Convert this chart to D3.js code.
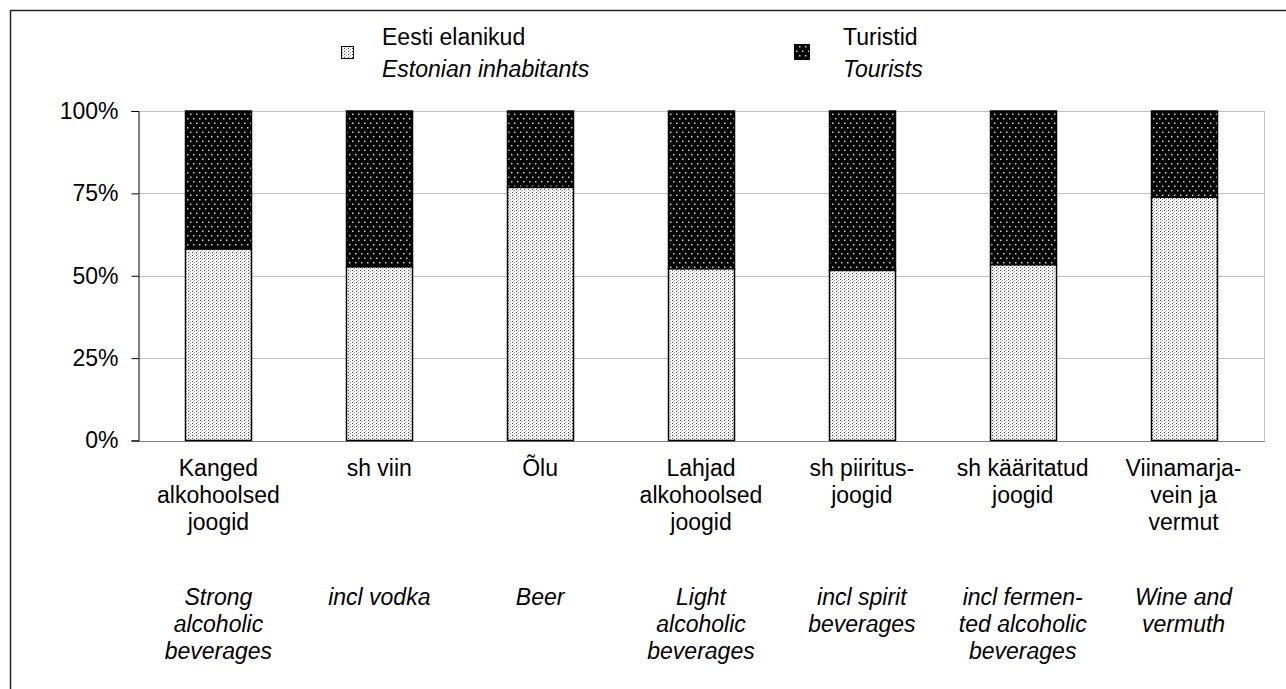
<!DOCTYPE html>
<html><head><meta charset="utf-8">
<script src="https://cdn.jsdelivr.net/npm/d3@7"></script>
<style>body{margin:0;background:#fff}svg{display:block;font-family:"Liberation Sans",Arial,sans-serif}</style>
</head><body><svg id="c" width="1286" height="689"></svg>
<script>
const categories = ["Kanged alkohoolsed joogid","sh viin","Õlu","Lahjad alkohoolsed joogid","sh piiritus-joogid","sh kääritatud joogid","Viinamarja-vein ja vermut"];
const labelsEt = [["Kanged","alkohoolsed","joogid"],["sh viin"],["Õlu"],["Lahjad","alkohoolsed","joogid"],["sh piiritus-","joogid"],["sh kääritatud","joogid"],["Viinamarja-","vein ja","vermut"]];
const labelsEn = [["Strong","alcoholic","beverages"],["incl vodka"],["Beer"],["Light","alcoholic","beverages"],["incl spirit","beverages"],["incl fermen-","ted alcoholic","beverages"],["Wine and","vermuth"]];
const residents = [58.1, 52.7, 76.8, 52.1, 51.6, 53.3, 73.8];
const tourists = [41.9, 47.3, 23.2, 47.9, 48.4, 46.7, 26.2];
const yTicks = [0, 25, 50, 75, 100];
const seriesEt = ["Eesti elanikud", "Turistid"];
const seriesEn = ["Estonian inhabitants", "Tourists"];

const FS = 23;
const svg = d3.select("#c");
const defs = svg.append("defs");
// light stipple pattern
const pl = defs.append("pattern").attr("id","pLight").attr("patternUnits","userSpaceOnUse").attr("width",4).attr("height",3);
pl.append("rect").attr("width",4).attr("height",3).attr("fill","#fff");
pl.append("rect").attr("x",0).attr("y",0).attr("width",1).attr("height",1).attr("fill","#444");
pl.append("rect").attr("x",2).attr("y",1).attr("width",1).attr("height",1).attr("fill","#999");
pl.append("rect").attr("x",1).attr("y",2).attr("width",1).attr("height",1).attr("fill","#bbb");
// dark pattern
const pd = defs.append("pattern").attr("id","pDark").attr("patternUnits","userSpaceOnUse").attr("width",6).attr("height",9);
pd.append("rect").attr("width",6).attr("height",9).attr("fill","#000");
pd.append("rect").attr("x",1).attr("y",1).attr("width",1.5).attr("height",1.5).attr("fill","#d0d0d0");
pd.append("rect").attr("x",4).attr("y",5.5).attr("width",1.5).attr("height",1.5).attr("fill","#d0d0d0");

const L = 138, R = 1264, T = 111, B = 440.5;
const x = d3.scaleBand().domain(categories).range([L, R]).paddingInner(0.59).paddingOuter(0.295);
const y = d3.scaleLinear().domain([0, 100]).range([B, T]);

// outer frame
svg.append("path").attr("d","M10.5,689 V10.5 H1286").attr("fill","none").attr("stroke","#222").attr("stroke-width",1.5);

// gridlines
svg.append("g").selectAll("line").data(yTicks.filter(d=>d>0)).join("line")
  .attr("x1",L).attr("x2",R).attr("y1",d=>Math.round(y(d))+0.5).attr("y2",d=>Math.round(y(d))+0.5)
  .attr("stroke","#c0c0c0");
svg.append("line").attr("x1",R+0.5).attr("x2",R+0.5).attr("y1",T).attr("y2",B).attr("stroke","#c0c0c0");
svg.append("line").attr("x1",L).attr("x2",R+1).attr("y1",Math.round(B)+0.5).attr("y2",Math.round(B)+0.5).attr("stroke","#808080");

// y axis
const ya = d3.axisLeft(y).tickValues(yTicks).tickFormat(d=>d+"%").tickSize(7).tickPadding(13);
const yg = svg.append("g").attr("transform",`translate(${L+0.5},0)`).call(ya);
yg.select(".domain").attr("stroke","#000");
yg.selectAll(".tick line").attr("stroke","#000");
yg.selectAll("text").attr("font-size",FS).attr("fill","#000").attr("font-family","Liberation Sans, Arial, sans-serif");

// bars
const bars = svg.append("g");
categories.forEach((c,i)=>{
  const bx = Math.round(x(c))+0.5, bw = Math.round(x.bandwidth());
  bars.append("rect").attr("x",bx).attr("width",bw).attr("y",y(100)).attr("height",y(residents[i])-y(100))
    .attr("fill","url(#pDark)").attr("stroke","#000").attr("stroke-width",1.5);
  bars.append("rect").attr("x",bx).attr("width",bw).attr("y",y(residents[i])).attr("height",y(0)-y(residents[i]))
    .attr("fill","url(#pLight)").attr("stroke","#000").attr("stroke-width",1.5);
});

// category labels
const lab = svg.append("g").attr("font-size",FS).attr("fill","#000").attr("text-anchor","middle");
categories.forEach((c,i)=>{
  const cx = x(c) + x.bandwidth()/2;
  labelsEt[i].forEach((t,j)=>lab.append("text").attr("x",cx).attr("y",476 + j*27).text(t));
  labelsEn[i].forEach((t,j)=>lab.append("text").attr("x",cx).attr("y",605 + j*27).attr("font-style","italic").text(t));
});

// legend
const lg = svg.append("g").attr("font-size",FS).attr("fill","#000");
const legX = [341, 794], legTX = [382, 843], legSz = [12, 15];
seriesEt.forEach((s,i)=>{
  lg.append("rect").attr("x",legX[i]+0.5).attr("y",i===0?46.5:44.5).attr("width",legSz[i]).attr("height",legSz[i])
    .attr("fill", i===0?"url(#pLight)":"url(#pDark)").attr("stroke","#000");
  lg.append("text").attr("x",legTX[i]).attr("y",45).text(s);
  lg.append("text").attr("x",legTX[i]).attr("y",77).attr("font-style","italic").text(seriesEn[i]);
});
</script></body></html>
